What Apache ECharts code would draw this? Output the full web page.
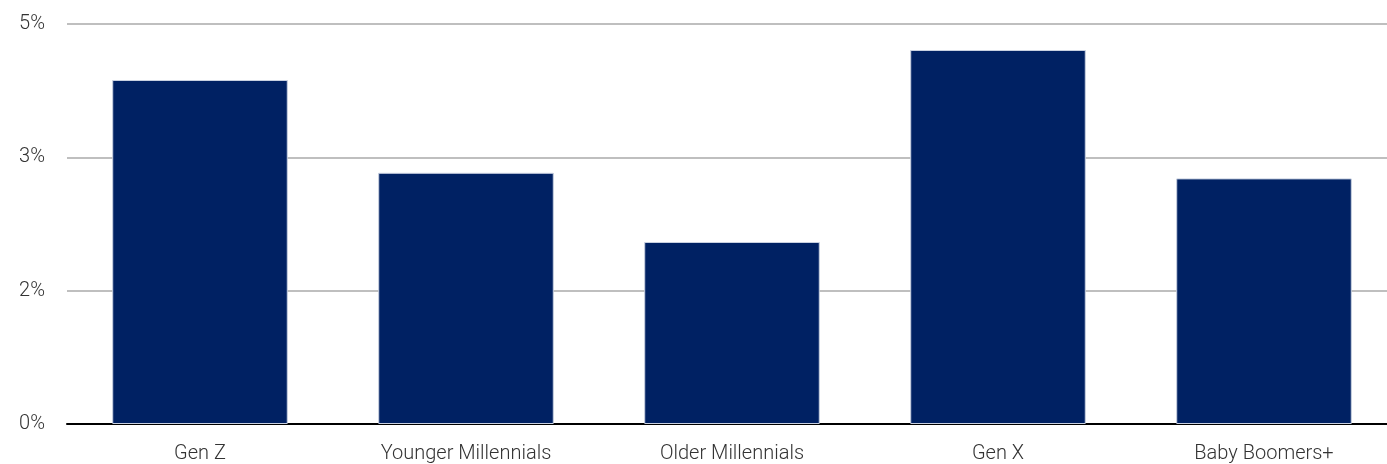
<!DOCTYPE html>
<html><head><meta charset="utf-8">
<script src="https://cdn.jsdelivr.net/npm/echarts@6/dist/echarts.min.js"></script>
<style>html,body{margin:0;padding:0;background:#fff;overflow:hidden}#c{width:1397px;height:464px}</style>
</head><body><div id="c"></div>
<script>
const categories = ["Gen Z", "Younger Millennials", "Older Millennials", "Gen X", "Baby Boomers+"];
const values = [4.3, 3.14, 2.275, 4.675, 3.07];
const yMax = 5;
const yInterval = 5 / 3;

const chart = echarts.init(document.getElementById('c'));
const font = 'Roboto, sans-serif';
chart.setOption({
  animation: false,
  grid: { left: 67, right: 0, top: 24, bottom: 40 },
  xAxis: {
    type: 'category',
    data: categories,
    axisTick: { show: false },
    axisLine: { lineStyle: { color: '#000', width: 2 } },
    axisLabel: { color: '#333', fontSize: 20, fontFamily: font, fontWeight: 300, margin: 20 }
  },
  yAxis: {
    type: 'value',
    min: 0, max: yMax, interval: yInterval,
    axisLine: { show: false },
    axisTick: { show: false },
    splitLine: { lineStyle: { color: '#bfbfbf', width: 2 } },
    axisLabel: { color: '#333', fontSize: 20, fontFamily: font, fontWeight: 300, margin: 22,
      formatter: v => Math.round(v) + '%' }
  },
  series: [{
    type: 'bar',
    data: values,
    barCategoryGap: '34%',
    itemStyle: { color: '#002163', borderColor: '#c8d0e0', borderWidth: 1 }
  }]
});
</script></body></html>
